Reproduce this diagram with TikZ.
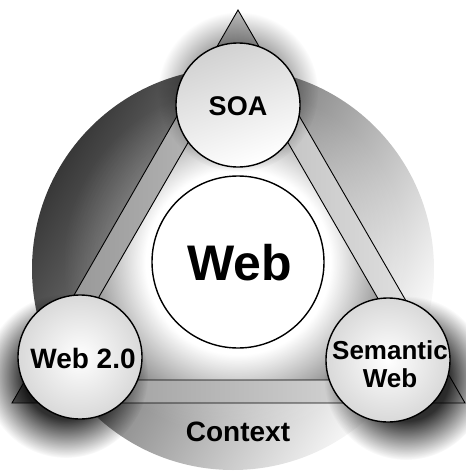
\documentclass[tikz,border=0pt]{standalone}
\usepackage{fontspec}
\setmainfont{Liberation Sans}
\usetikzlibrary{fadings}
\tikzfading[name=softglow, inner color=transparent!0, outer color=transparent!100]
\pgfdeclareradialshading{shfadeshade}{\pgfpointorigin}{color(0bp)=(pgftransparent!0); color(13bp)=(pgftransparent!10); color(25bp)=(pgftransparent!100); color(50bp)=(pgftransparent!100)}
\pgfdeclarefading{shfade}{\pgfuseshading{shfadeshade}}
\pgfdeclareradialshading{glowshade}{\pgfpointorigin}{color(0bp)=(pgftransparent!0); color(14bp)=(pgftransparent!0); color(25bp)=(pgftransparent!100); color(50bp)=(pgftransparent!100)}
\pgfdeclarefading{glowfade}{\pgfuseshading{glowshade}}
\begin{document}
\begin{tikzpicture}[x=1pt,y=-1pt,
  ring/.style={draw=black, line width=1.4pt},
  edge/.style={draw=black, line width=0.9pt, line join=miter},
  lbl/.style={font=\bfseries, align=center, text=black, inner sep=0pt},
  blob/.style={fill=black, fill opacity=#1, path fading=shfade}]
\useasboundingbox (0,0) rectangle (466,472);
% context disc
\shade[top color=black!78, bottom color=white, shading angle=60] (233,269) circle (201);
\fill[white, fill opacity=0.6, path fading=softglow] (238,262) circle (175);
% triangle points
\coordinate (A) at (238,10);
\coordinate (B) at (12,403);
\coordinate (C) at (465,403);
\coordinate (a) at (238,56);
\coordinate (b) at (51,380);
\coordinate (c) at (425,380);
% inner triangle
\begin{scope}
\clip (a)--(b)--(c)--cycle;
\fill[black!55] (a)--(b)--(c)--cycle;
\fill[white, path fading=glowfade] (238,262) circle (165);
\end{scope}
% band
\shade[even odd rule, left color=black!45, right color=black!8] (A)--(B)--(C)--cycle (a)--(b)--(c)--cycle;
\draw[edge] (A)--(B)--(C)--cycle;
\draw[edge] (a)--(b)--(c)--cycle;
% shadows
\fill[blob=0.5] (238,92) circle (80);
\fill[blob=0.9] (66,376) circle (82);
\fill[blob=0.9] (406,378) circle (82);
% circles
\node[ring, circle, minimum size=172pt, fill=white] (web) at (238,262) {};
\shade[ring, top color=black!18, bottom color=white, shading angle=20] (238,105) circle (62);
\shade[ring, inner color=white, outer color=black!15] (80,357) circle (62);
\shade[ring, inner color=white, outer color=black!15] (388,360) circle (62);
\node[lbl, font=\bfseries\fontsize{50}{56}\selectfont] (webl) at (240,263) {Web};
\node[lbl, font=\bfseries\fontsize{27}{30}\selectfont] (soa) at (238,106) {SOA};
\node[lbl, font=\bfseries\fontsize{28}{32}\selectfont] (w20) at (83,358) {Web 2.0};
\node[lbl, font=\bfseries\fontsize{26}{28}\selectfont] (sem) at (390,364) {Semantic\\Web};
\node[lbl, font=\bfseries\fontsize{28}{32}\selectfont] (ctx) at (238,432) {Context};
\end{tikzpicture}
\end{document}
